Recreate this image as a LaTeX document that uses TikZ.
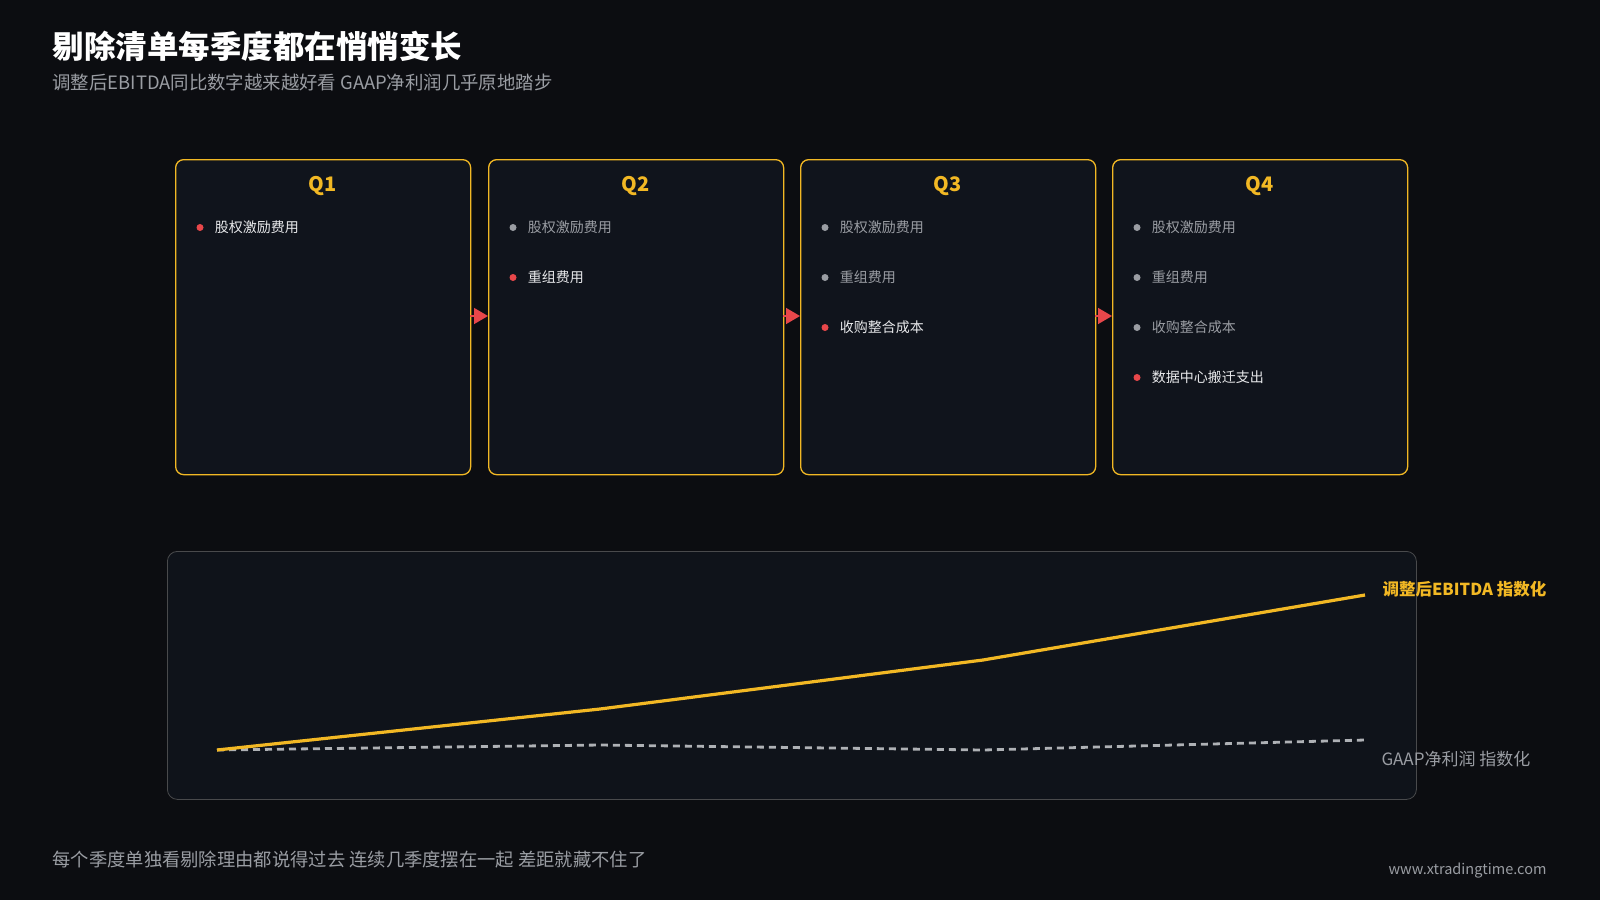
\documentclass[tikz,border=0pt]{standalone}
\usepackage{fontspec}
\setmainfont{Noto Sans CJK SC}
\usetikzlibrary{positioning,arrows.meta}
\begin{document}
\definecolor{bg}{HTML}{0C0D11}
\definecolor{boxbg}{HTML}{10141C}
\definecolor{gold}{HTML}{F2B824}
\definecolor{redd}{HTML}{E8474A}
\definecolor{gray1}{HTML}{9A9DA3}
\definecolor{txt}{HTML}{E8E9EB}
\begin{tikzpicture}[x=1pt,y=-1pt,
 qbox/.style={draw=gold,line width=1.3pt,fill=boxbg,rounded corners=8pt,minimum width=295pt,minimum height=315pt,anchor=north west,inner sep=0},
 qlab/.style={text=gold,font=\fontsize{20}{20}\selectfont\bfseries},
 item/.style={anchor=west,font=\fontsize{14}{14}\selectfont,inner sep=0},
 old/.style={item,text=gray1},
 new/.style={item,text=txt},
 dot/.style={circle,inner sep=0,minimum size=7pt},
 arr/.style={-{Triangle[length=14pt,width=16pt]},draw=redd,line width=1.5pt}]
\useasboundingbox[fill=bg] (0,0) rectangle (1600,900);
\node[anchor=west,text=white,font=\fontsize{31.5}{32}\selectfont\bfseries] (t) at (49,46) {剔除清单每季度都在悄悄变长};
\node[anchor=west,text=gray1,font=\fontsize{18.4}{19}\selectfont] (st) at (49,82) {调整后EBITDA同比数字越来越好看 GAAP净利润几乎原地踏步};
\foreach \i/\x in {1/175,2/488,3/800,4/1112}{
 \node[qbox] (b\i) at (\x,159) {};
 \node[qlab] (q\i) at (\x+147.5,186) {Q\i};
}
% Q1
\node[dot,fill=redd] (d11) at (200,227.5) {}; \node[new,right=11pt of d11] {股权激励费用};
% Q2
\node[dot,fill=gray1] (d21) at (513,227.5) {}; \node[old,right=11pt of d21] {股权激励费用};
\node[dot,fill=redd] (d22) at (513,277.5) {}; \node[new,right=11pt of d22] {重组费用};
% Q3
\node[dot,fill=gray1] (d31) at (825,227.5) {}; \node[old,right=11pt of d31] {股权激励费用};
\node[dot,fill=gray1] (d32) at (825,277.5) {}; \node[old,right=11pt of d32] {重组费用};
\node[dot,fill=redd] (d33) at (825,327.5) {}; \node[new,right=11pt of d33] {收购整合成本};
% Q4
\node[dot,fill=gray1] (d41) at (1137,227.5) {}; \node[old,right=11pt of d41] {股权激励费用};
\node[dot,fill=gray1] (d42) at (1137,277.5) {}; \node[old,right=11pt of d42] {重组费用};
\node[dot,fill=gray1] (d43) at (1137,327.5) {}; \node[old,right=11pt of d43] {收购整合成本};
\node[dot,fill=redd] (d44) at (1137,377.5) {}; \node[new,right=11pt of d44] {数据中心搬迁支出};
% arrows
\coordinate (a1) at (470,316); \coordinate (a2) at (783,316); \coordinate (a3) at (1095,316);
\coordinate (e1) at (488,316); \coordinate (e2) at (800,316); \coordinate (e3) at (1112,316);
\draw[arr] (a1) -- (e1); \draw[arr] (a2) -- (e2); \draw[arr] (a3) -- (e3);
% chart
\node[draw=white!25!bg,line width=0.8pt,fill=boxbg!80!bg,rounded corners=10pt,anchor=north west,minimum width=1249pt,minimum height=248pt,inner sep=0] (ch) at (167,551) {};
\coordinate (p0) at (217,750); \coordinate (p1) at (600,709); \coordinate (p2) at (983,660); \coordinate (p3) at (1365,595);
\coordinate (g1) at (600,745); \coordinate (g2) at (983,750); \coordinate (g3) at (1365,740);
\draw[gray1!80!white,line width=2.8pt,dash pattern=on 7pt off 5pt] (p0) -- (g1) -- (g2) -- (g3);
\draw[gold,line width=3.2pt,line join=round] (p0) -- (p1) -- (p2) -- (p3);
\node[anchor=west,text=gold,font=\fontsize{16.5}{17}\selectfont\bfseries] (le) at (1379,589) {调整后EBITDA 指数化};
\node[anchor=west,text=gray1,font=\fontsize{17}{18}\selectfont] (lg) at (1378,759) {GAAP净利润 指数化};
\node[anchor=west,text=gray1,font=\fontsize{18.3}{19}\selectfont] (ft) at (49,860) {每个季度单独看剔除理由都说得过去 连续几季度摆在一起 差距就藏不住了};
\node[anchor=east,text=gray1,font=\fontsize{14.5}{15}\selectfont] (url) at (1550,871) {www.xtradingtime.com};
\end{tikzpicture}
\end{document}
